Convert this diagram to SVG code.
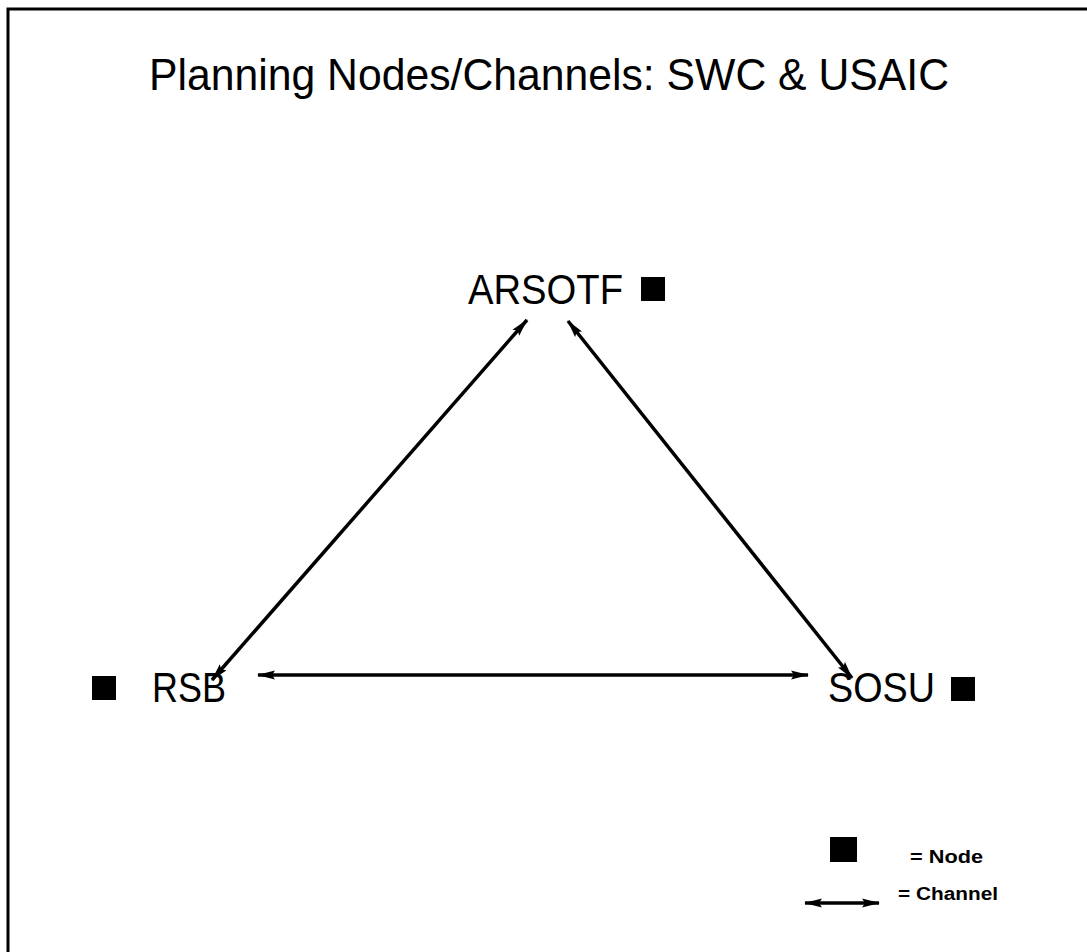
<svg xmlns="http://www.w3.org/2000/svg" width="1087" height="952" viewBox="0 0 1087 952">
<style>
.lbl{font-family:"Liberation Sans",Arial,sans-serif;font-size:42px;fill:#000}
.ttl{font-family:"Liberation Sans",Arial,sans-serif;font-size:44px;fill:#000}
.leg{font-family:"Liberation Sans",Arial,sans-serif;font-size:18px;font-weight:bold;fill:#000}
.ch{stroke:#000;stroke-width:3.5;fill:none;marker-start:url(#ah);marker-end:url(#ah)}
.sq{fill:#000}
</style>
<defs>
<marker id="ah" viewBox="0 0 18 10" refX="17" refY="5" markerWidth="18" markerHeight="10" markerUnits="userSpaceOnUse" orient="auto-start-reverse">
<path d="M0,0.5 L18,5 L0,9.5 L3,5 Z" fill="#000"/>
</marker>
</defs>
<rect width="1087" height="952" fill="#fff"/>
<path d="M8,952 L8,9 L1087,9" stroke="#000" stroke-width="3" fill="none"/>
<text x="549" y="90" text-anchor="middle" class="ttl" textLength="800" lengthAdjust="spacingAndGlyphs">Planning Nodes/Channels: SWC &amp; USAIC</text>
<g id="connectors">
<line class="ch" x1="212" y1="680" x2="527" y2="320"/>
<line class="ch" x1="852" y1="678" x2="568" y2="321"/>
<line class="ch" x1="258" y1="675" x2="808" y2="675"/>
</g>
<g id="node-arsotf">
<text x="468" y="304" class="lbl" textLength="155" lengthAdjust="spacingAndGlyphs">ARSOTF</text>
<rect class="sq" x="641" y="277" width="24" height="24"/>
</g>
<g id="node-rsb">
<rect class="sq" x="92" y="676" width="24" height="24"/>
<text x="152" y="702" class="lbl" textLength="74" lengthAdjust="spacingAndGlyphs">RSB</text>
</g>
<g id="node-sosu">
<text x="828" y="702" class="lbl" textLength="107" lengthAdjust="spacingAndGlyphs">SOSU</text>
<rect class="sq" x="951" y="677" width="24" height="24"/>
</g>
<g id="legend">
<rect class="sq" x="830" y="837" width="27" height="25"/>
<text x="910" y="863" class="leg" textLength="73" lengthAdjust="spacingAndGlyphs">= Node</text>
<line class="ch" x1="805" y1="903" x2="879" y2="903"/>
<text x="898" y="900" class="leg" textLength="100" lengthAdjust="spacingAndGlyphs">= Channel</text>
</g>
</svg>
